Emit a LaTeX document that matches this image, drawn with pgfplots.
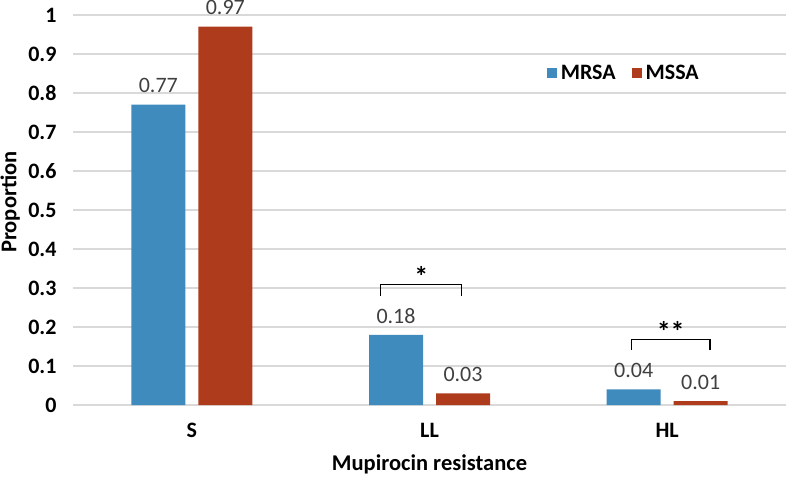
\documentclass[border=0pt]{standalone}
\usepackage{pgfplots}
\pgfplotsset{compat=1.18}
\usepackage{fontspec}
\setmainfont{Carlito}
\definecolor{mrsa}{HTML}{3F8BBE}
\definecolor{mssa}{HTML}{AE3B1C}
\definecolor{lbl}{HTML}{404040}
\definecolor{gridc}{HTML}{D9D9D9}
\begin{document}
\begin{tikzpicture}
\useasboundingbox (0,0) rectangle (786pt,477pt);
\begin{axis}[
  at={(73pt,72pt)}, anchor=south west,
  scale only axis, width=713pt, height=390pt,
  ybar=13pt, bar width=54pt,
  xmin=-0.5, xmax=2.5, ymin=0, ymax=1,
  xtick={0,1,2}, xticklabels={S,LL,HL},
  ytick={0,0.1,...,1.0},
  /pgf/number format/assume math mode=true,
  yticklabel={\pgfmathprintnumber[fixed,precision=1]{\tick}},
  axis line style={draw=none}, major tick length=0pt,
  ymajorgrids, grid style={gridc, line width=1.3pt},
  yticklabel style={font=\fontsize{22}{26}\selectfont\bfseries, xshift=-13pt},
  xticklabel style={font=\fontsize{22}{26}\selectfont\bfseries, yshift=-15pt},
  xlabel={Mupirocin resistance},
  xlabel style={at={(axis description cs:0.5,0)}, anchor=center, inner sep=0pt, yshift=-59pt, font=\fontsize{22.5}{27}\selectfont\bfseries},
  ylabel={Proportion},
  ylabel style={at={(axis description cs:-0.088,0.52)}, anchor=center, inner sep=0pt, font=\fontsize{22.5}{27}\selectfont\bfseries},
  nodes near coords,
  nodes near coords style={font=\fontsize{22}{26}\selectfont, text=lbl, yshift=8pt, /pgf/number format/fixed, /pgf/number format/precision=2, /pgf/number format/fixed zerofill, /pgf/number format/assume math mode=true},
  legend style={draw=none, fill=none, at={(0.66,0.851)}, anchor=west, legend columns=2, font=\fontsize{22}{26}\selectfont\bfseries, /tikz/every even column/.append style={column sep=14pt}},
  legend image code/.code={\fill[#1] (0pt,-5pt) rectangle (10pt,5pt); \path (12pt,0pt);},
]
\addplot[fill=mrsa, draw=none] coordinates {(0,0.77) (1,0.18) (2,0.04)};
\addplot[fill=mssa, draw=none] coordinates {(0,0.97) (1,0.03) (2,0.01)};
\legend{MRSA, MSSA}
\draw[black, line width=1.1pt] (axis cs:0.795,0.28) -- (axis cs:0.795,0.31) -- (axis cs:1.136,0.31) -- (axis cs:1.136,0.28);
\node[anchor=base, font=\fontsize{28}{30}\selectfont\bfseries] at (axis cs:0.966,0.305) {*};
\draw[black, line width=1.1pt] (axis cs:1.851,0.141) -- (axis cs:1.851,0.169) -- (axis cs:2.18,0.169) -- (axis cs:2.18,0.141);
\node[anchor=base, font=\fontsize{28}{30}\selectfont\bfseries] at (axis cs:2.015,0.164) {**};
\end{axis}
\end{tikzpicture}
\end{document}
